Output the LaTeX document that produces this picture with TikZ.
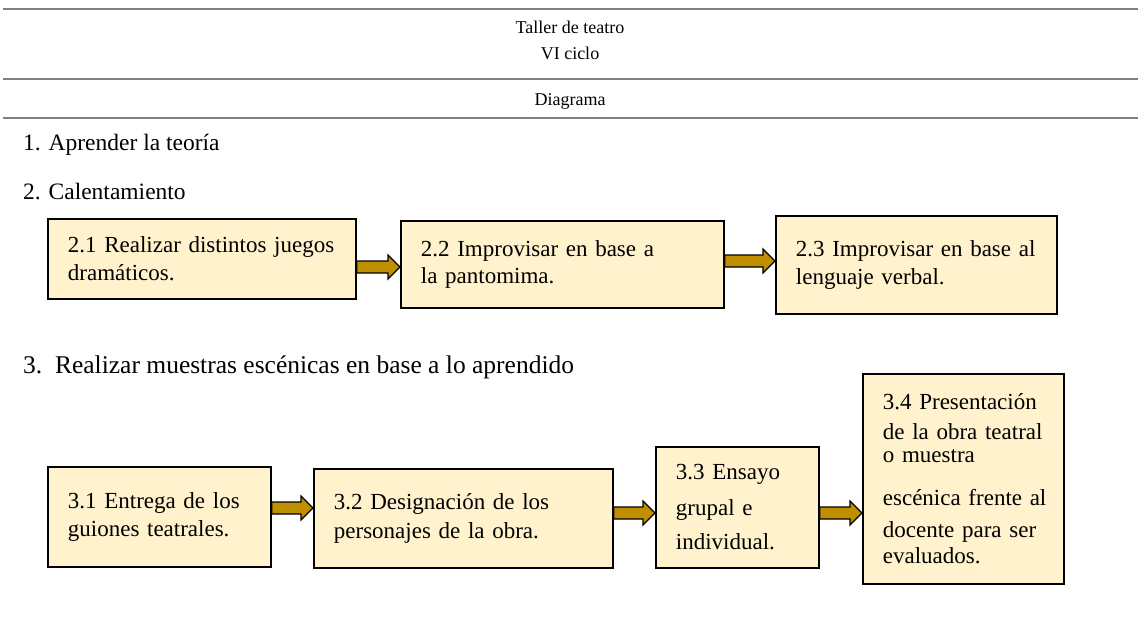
\documentclass[tikz,border=0pt]{standalone}
\usepackage{fontspec}
\setmainfont{Liberation Serif}
\usetikzlibrary{calc}
\definecolor{boxfill}{HTML}{FFF2CC}
\definecolor{arrowfill}{HTML}{BF8F00}
\definecolor{rulegray}{HTML}{808080}
\tikzset{
  stepbox/.style={draw=black, line width=1.8pt, fill=boxfill, anchor=north west,
    align=left, inner xsep=20pt, inner ysep=0pt, font=\fontsize{23}{27.5}\selectfont},
  blockarrow/.style={draw=black, line width=1.2pt, fill=arrowfill, line join=miter},
  hrule/.style={draw=rulegray, line width=2pt},
  headtxt/.style={inner sep=0pt, anchor=base, font=\fontsize{18}{22}\selectfont},
  itemtxt/.style={inner sep=0pt, anchor=base west, font=\fontsize{23.5}{28}\selectfont},
  bigitemtxt/.style={itemtxt, font=\fontsize{25.5}{30}\selectfont},
}
\newcommand\blockarr[3]{%
  \filldraw[blockarrow] let \p1=(#1.east), \p2=(#2.west) in
    (\x1,{-(#3-6)*1pt}) -- ({\x2-12pt},{-(#3-6)*1pt}) -- ({\x2-12pt},{-(#3-12)*1pt})
    -- (\x2,{-#3*1pt}) -- ({\x2-12pt},{-(#3+12)*1pt}) -- ({\x2-12pt},{-(#3+6)*1pt})
    -- (\x1,{-(#3+6)*1pt}) -- cycle;}
\begin{document}
\begin{tikzpicture}[x=1pt,y=-1pt]
\useasboundingbox (0,0) rectangle (1138,621);
% header rules
\coordinate (r1a) at (3,9);   \coordinate (r1b) at (1138,9);
\coordinate (r2a) at (3,79);  \coordinate (r2b) at (1138,79);
\coordinate (r3a) at (3,118); \coordinate (r3b) at (1138,118);
\draw[hrule] (r1a) -- (r1b);
\draw[hrule] (r2a) -- (r2b);
\draw[hrule] (r3a) -- (r3b);
\node[headtxt] (t1) at (570,34) {Taller de teatro};
\node[headtxt] (t2) at (570,59) {VI ciclo};
\node[headtxt] (t3) at (570,105) {Diagrama};
% list items
\node[itemtxt] (i1) at (23,150) {1. Aprender la teoría};
\node[itemtxt] (i2) at (23,199) {2. Calentamiento};
\node[bigitemtxt] (i3) at (23,373) {3.\ \ Realizar muestras escénicas en base a lo aprendido};
% row 2 boxes
\node[stepbox, minimum width=308pt, minimum height=80pt, text width=268pt] (b21) at (47,218)
  {2.1 Realizar distintos juegos\\dramáticos.};
\node[stepbox, minimum width=323pt, minimum height=87pt, text width=283pt] (b22) at (400,220)
  {2.2 Improvisar en base a\\la pantomima.};
\node[stepbox, minimum width=281pt, minimum height=98pt, text width=241pt] (b23) at (775,215)
  {2.3 Improvisar en base al\\lenguaje verbal.};
% row 3 boxes
\node[stepbox, minimum width=223pt, minimum height=100pt, text width=183pt] (b31) at (47,466)
  {3.1 Entrega de los\\[1pt]guiones teatrales.};
\node[stepbox, minimum width=299pt, minimum height=99pt, text width=259pt] (b32) at (313,468)
  {3.2 Designación de los\\[1pt]personajes de la obra.};
\node[stepbox, minimum width=163pt, minimum height=121pt, text width=123pt] (b33) at (655,446)
  {3.3 Ensayo\\[8pt]grupal e\\[7pt]individual.};
\node[stepbox, minimum width=201pt, minimum height=210pt, text width=161pt] (b34) at (862,373)
  {\mbox{3.4 Presentación}\\[2.5pt]\mbox{de la obra teatral}\\[-4.5pt]\mbox{o muestra}\\[15pt]\mbox{escénica frente al}\\[4.5pt]\mbox{docente para ser}\\[-1.5pt]\mbox{evaluados.}};
% arrows
\blockarr{b21}{b22}{267}
\blockarr{b22}{b23}{261}
\blockarr{b31}{b32}{508}
\blockarr{b32}{b33}{513}
\blockarr{b33}{b34}{513}
\end{tikzpicture}
\end{document}
